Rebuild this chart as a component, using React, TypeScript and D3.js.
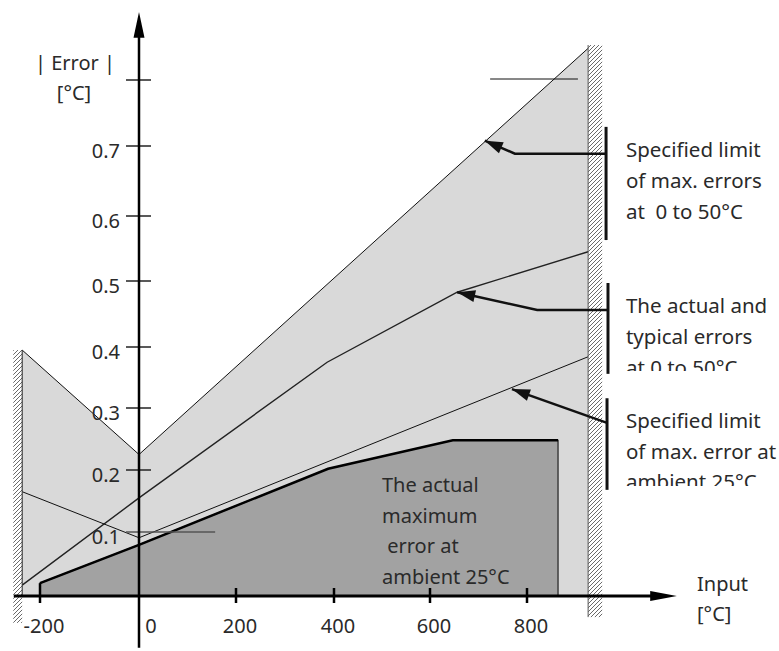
import React from "react";
import * as d3 from "d3";

// ---- data ----
const xTicks = [-200, 0, 200, 400, 600, 800];
const yTicks = [0.1, 0.2, 0.3, 0.4, 0.5, 0.6, 0.7];
const yTopTick = 0.8;
const wallLeft = -236;
const wallRight = 926;

// Specified limit of max. errors at 0 to 50°C (upper boundary of light area)
const limitSpec: [number, number][] = [[-236, 0.395], [0, 0.225], [926, 0.848]];
// The actual and typical errors at 0 to 50°C
const typicalErr: [number, number][] = [[-236, 0.017], [0, 0.155], [386, 0.375], [656, 0.483], [926, 0.545]];
// Specified limit of max. error at ambient 25°C
const limitAmbient: [number, number][] = [[-236, 0.165], [0, 0.091], [926, 0.384]];
// The actual maximum error at ambient 25°C
const actualMax: [number, number][] = [[-200, 0.02], [0, 0.08], [388, 0.202], [647, 0.248], [864, 0.248]];

const annoA = { tip: [713, 0.708], elbow: [775, 0.689], end: [963, 0.689], bar: [963, 0.729, 0.563] };
const annoB = { tip: [656, 0.483], elbow: [821, 0.456], end: [967, 0.456], bar: [967, 0.497, 0.356] };
const annoC = { tip: [769, 0.331], elbow: [769, 0.331], end: [965, 0.276], bar: [965, 0.316, 0.168] };

const textA = ["Specified limit", "of max. errors", "at  0 to 50°C"];
const textB = ["The actual and", "typical errors", "at 0 to 50°C"];
const textC = ["Specified limit", "of max. error at", "ambient 25°C"];
const textDark = ["The actual", "maximum", " error at", "ambient 25°C"];

const FONT = "'Noto Sans', 'DejaVu Sans', sans-serif";

export default function App() {
  const W = 779, H = 651;
  const x = d3.scaleLinear().domain([-200, 0, 200, 400, 600, 800]).range([40, 139, 236, 334, 430, 527]);
  const y = d3.scaleLinear().domain([0, 0.1, 0.2, 0.3, 0.4, 0.5, 0.6, 0.7, 0.8]).range([596, 532, 470, 408, 347, 281, 216, 146, 80]);
  const line = d3.line<[number, number]>().x((d) => x(d[0])).y((d) => y(d[1]));

  const x0 = x(0);
  const y0 = y(0);
  const lightPoly: [number, number][] = [[wallLeft, 0], ...limitSpec, [wallRight, 0]];
  const darkPoly: [number, number][] = [[actualMax[0][0], 0], ...actualMax, [actualMax[actualMax.length - 1][0], 0]];

  const arrowHead = (tip: number[], from: number[], len = 18, half = 6) => {
    const tx = x(tip[0]), ty = y(tip[1]);
    const fx = x(from[0]), fy = y(from[1]);
    const a = Math.atan2(fy - ty, fx - tx);
    const bx = tx + len * Math.cos(a), by = ty + len * Math.sin(a);
    const px = -Math.sin(a) * half, py = Math.cos(a) * half;
    return `M${tx},${ty}L${bx + px},${by + py}L${bx - px},${by - py}Z`;
  };

  const renderAnno = (a: any, id: string) => {
    const barX = x(a.bar[0]);
    const pts = [a.tip, a.elbow, a.end].map((p: number[]) => [x(p[0]), y(p[1])]);
    const from = a.elbow[0] === a.tip[0] ? a.end : a.elbow;
    return (
      <g key={id}>
        <line x1={barX} x2={barX} y1={y(a.bar[1])} y2={y(a.bar[2])} stroke="#111" strokeWidth={3} />
        <path d={`M${pts[0][0]},${pts[0][1]}L${pts[1][0]},${pts[1][1]}L${pts[2][0]},${pts[2][1]}`} fill="none" stroke="#111" strokeWidth={2.5} />
        <path d={arrowHead(a.tip, from)} fill="#111" />
      </g>
    );
  };

  const textX = x(1004);
  const TXT = "#2a2a2a";

  return (
    <div style={{ position: "absolute", left: 0, top: 0 }}>
      <svg width={W} height={H} style={{ display: "block", background: "#fff" }} fontFamily={FONT}>
        <defs>
          <pattern id="hatch" patternUnits="userSpaceOnUse" width={4} height={4}>
            <rect width={4} height={4} fill="#fff" />
            <path d="M-1,1L1,-1M0,4L4,0M3,5L5,3" stroke="#444" strokeWidth={0.8} />
          </pattern>
          <clipPath id="clipB"><rect x={600} y={0} width={179} height={371} /></clipPath>
          <clipPath id="clipC"><rect x={600} y={380} width={179} height={106} /></clipPath>
        </defs>

        {/* light area */}
        <path d={line(lightPoly) + "Z"} fill="#d9d9d9" stroke="none" />
        {/* dark area */}
        <path d={line(darkPoly) + "Z"} fill="#a2a2a2" stroke="#222" strokeWidth={1.2} />
        <path d={line(actualMax) || ""} fill="none" stroke="#000" strokeWidth={2.5} />
        <line x1={x(actualMax[0][0])} x2={x(actualMax[0][0])} y1={y(actualMax[0][1])} y2={y0 + 7} stroke="#000" strokeWidth={2.5} />

        {/* lines */}
        <path d={line(limitSpec) || ""} fill="none" stroke="#111" strokeWidth={1} />
        <path d={line(typicalErr) || ""} fill="none" stroke="#222" strokeWidth={1.4} />
        <path d={line(limitAmbient) || ""} fill="none" stroke="#111" strokeWidth={1} />

        {/* walls */}
        <rect x={x(-254)} y={y(limitSpec[0][1])} width={x(wallLeft) - x(-254)} height={y(-0.042) - y(limitSpec[0][1])} fill="url(#hatch)" />
        <line x1={x(wallLeft)} x2={x(wallLeft)} y1={y(limitSpec[0][1])} y2={y0} stroke="#222" strokeWidth={1} />
        <rect x={x(wallRight)} y={y(0.853)} width={x(955) - x(wallRight)} height={y(-0.033) - y(0.853)} fill="url(#hatch)" />
        <line x1={x(wallRight)} x2={x(wallRight)} y1={y(0.853)} y2={y(-0.033)} stroke="#555" strokeWidth={1} />

        {/* y ticks */}
        {yTicks.map((t) => (
          <g key={t}>
            <line x1={x0 - 13} x2={t === 0.1 ? x(157) : x0 + 12} y1={y(t)} y2={y(t)} stroke={t === 0.1 ? "#555" : "#222"} strokeWidth={1.5} />
            <text x={120} y={y(t) + 12} textAnchor="end" fontSize={20} fill={TXT}>{t.toFixed(1)}</text>
          </g>
        ))}
        <line x1={x0 - 13} x2={x0 + 12} y1={y(yTopTick)} y2={y(yTopTick)} stroke="#222" strokeWidth={1.5} />
        <line x1={x(724)} x2={x(905)} y1={y(yTopTick) - 1} y2={y(yTopTick) - 1} stroke="#111" strokeWidth={1} />

        {/* x axis */}
        <line x1={x(-253)} x2={x(1085)} y1={y0} y2={y0} stroke="#000" strokeWidth={3} />
        <path d={`M${x(1109)},${y0}L${x(1054)},${y0 - 5}L${x(1054)},${y0 + 5}Z`} fill="#000" />
        {xTicks.map((t) => (
          <g key={t}>
            {t !== 0 && t !== -200 && <line x1={x(t)} x2={x(t)} y1={y0 - 8} y2={y0 + 7} stroke="#000" strokeWidth={2.5} />}
            <text x={x(t) + (t === 0 ? 12 : 4)} y={633} textAnchor="middle" fontSize={20} fill={TXT}>{t}</text>
          </g>
        ))}

        {/* y axis */}
        <line x1={x0} x2={x0} y1={y(0.87)} y2={y(-0.081)} stroke="#000" strokeWidth={2.5} />
        <path d={`M${x0},${y(0.903)}L${x0 - 5.5},${y(0.864)}L${x0 + 5.5},${y(0.864)}Z`} fill="#000" />

        {/* axis titles */}
        <text x={75} y={70} textAnchor="middle" fontSize={20} fill={TXT}>| Error |</text>
        <text x={74} y={100} textAnchor="middle" fontSize={20} fill={TXT}>[°C]</text>
        <text x={697} y={591} fontSize={20} fill={TXT}>Input</text>
        <text x={697} y={621} fontSize={20} fill={TXT}>[°C]</text>

        {/* annotations */}
        {renderAnno(annoA, "a")}
        {renderAnno(annoB, "b")}
        {renderAnno(annoC, "c")}

        {textA.map((s, i) => (
          <text key={"a" + i} x={textX} y={157 + i * 31} fontSize={20.5} fill={TXT} style={{ whiteSpace: "pre" }}>{s}</text>
        ))}
        <g clipPath="url(#clipB)">
          {textB.map((s, i) => (
            <text key={"b" + i} x={textX} y={313 + i * 31} fontSize={20.5} fill={TXT}>{s}</text>
          ))}
        </g>
        <g clipPath="url(#clipC)">
          {textC.map((s, i) => (
            <text key={"c" + i} x={textX} y={428 + i * 30.5} fontSize={20.5} fill={TXT}>{s}</text>
          ))}
        </g>
        {textDark.map((s, i) => (
          <text key={"d" + i} x={x(500)} y={492 + i * 30.5} fontSize={20} fill={TXT} style={{ whiteSpace: "pre" }}>{s}</text>
        ))}
      </svg>
    </div>
  );
}
